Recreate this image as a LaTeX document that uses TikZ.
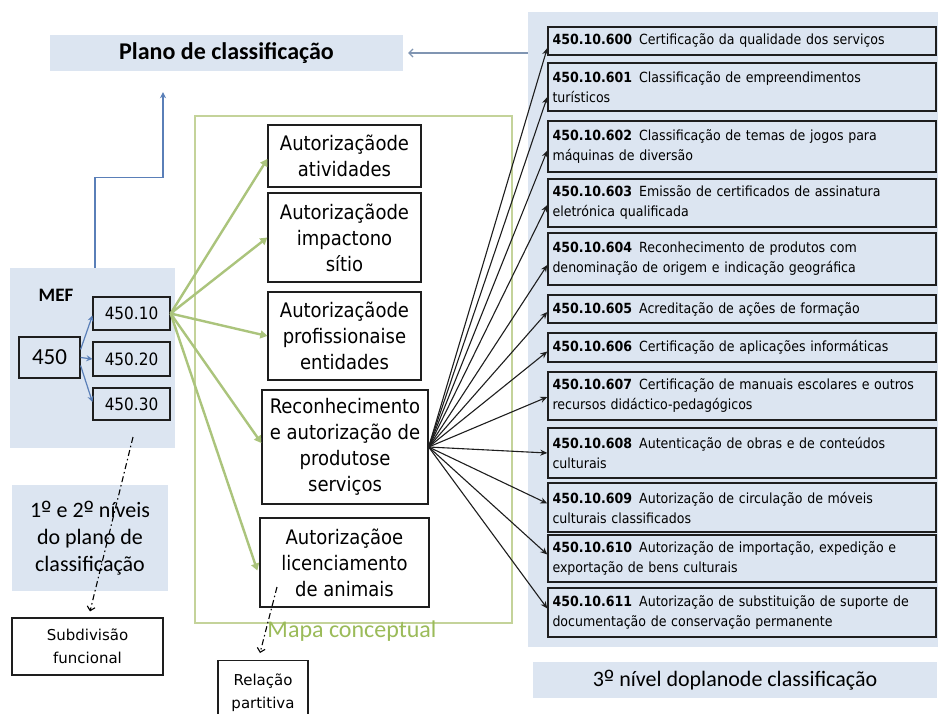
\documentclass[tikz,border=0pt]{standalone}
\usepackage{fontspec}
\newfontfamily\tahfont{DejaVu Sans Condensed}
\newfontfamily\tahwfont{DejaVu Sans}
\newfontfamily\calfont{Carlito}
\usetikzlibrary{arrows.meta,calc}
\newcommand\ordm{{\tahwfont º}}
\definecolor{lightblue}{HTML}{DCE5F1}
\definecolor{boxdark}{HTML}{1E1E1E}
\definecolor{mapgreen}{HTML}{C4D39A}
\definecolor{arrgreen}{HTML}{ABC47C}
\definecolor{labgreen}{HTML}{9BBB59}
\definecolor{linkblue}{HTML}{5A7FB8}
\definecolor{greyblue}{HTML}{8095B2}
\tikzset{
  lbpanel/.style={fill=lightblue, draw=none, inner sep=0pt},
  mbox/.style={draw=boxdark, line width=1.3pt, fill=white, align=center, inner sep=0pt,
    font=\tahfont\fontsize{20}{26}\selectfont},
  rbox/.style={draw=boxdark, line width=1.4pt, fill=lightblue, inner xsep=4.5pt, inner ysep=0pt,
    text width=379pt, align=left, font=\tahfont\fontsize{14}{20}\selectfont},
  nbox/.style={draw=boxdark, line width=1.2pt, fill=lightblue, inner sep=0pt,
    font=\tahfont\fontsize{17}{18}\selectfont},
  sbox/.style={draw=boxdark, line width=1.2pt, fill=white, inner sep=0pt, align=center,
    font=\tahwfont\fontsize{15}{23}\selectfont},
  garrow/.style={draw=arrgreen, line width=2.4pt, -{Triangle[length=7pt,width=8pt]}},
  barrow/.style={draw=boxdark, line width=1.1pt, -{Stealth[length=7pt,width=6pt]}},
  blarrow/.style={draw=linkblue, line width=1.2pt, -{Stealth[length=6pt,width=6pt]}},
  dasharrow/.style={draw=black, line width=1.1pt, dash pattern=on 6pt off 3pt on 1.5pt off 3pt,
    -{Straight Barb[length=4pt,width=8pt]}},
}
\begin{document}
\begin{tikzpicture}[x=1pt,y=-1pt]
\path[use as bounding box] (0,0) rectangle (938,713);
\clip (0,0) rectangle (938,713);
\fill[white] (0,0) rectangle (938,713);

% panels
\node[lbpanel, minimum width=353pt, minimum height=36pt,
  font=\calfont\bfseries\fontsize{24}{26}\selectfont] (plano) at (226.5,53) {Plano de classificação};
\node[lbpanel, minimum width=410pt, minimum height=635pt] (panel) at (733,329.5) {};
\node[lbpanel, minimum width=404pt, minimum height=36pt,
  font=\calfont\fontsize{22}{24}\selectfont] (nivel3) at (735,680) {3\ordm{} nível doplanode classificação};
\node[lbpanel, minimum width=165pt, minimum height=180pt] (mef) at (92.5,358) {};
\node[font=\calfont\bfseries\fontsize{19}{20}\selectfont] (mefl) at (56,295) {MEF};
\node[lbpanel, minimum width=156pt, minimum height=106pt, align=center,
  font=\calfont\fontsize{22}{27}\selectfont] (niveis) at (90,538) {1\ordm{} e 2\ordm{} níveis\\do plano de\\classificação};

% mapa conceptual frame
\node[draw=mapgreen, line width=1.2pt, minimum width=317pt, minimum height=507pt, inner sep=0pt] (mapa) at (353.5,369.5) {};
\node[text=labgreen, font=\calfont\fontsize{24}{26}\selectfont] (mapal) at (352,631) {Mapa conceptual};

% MEF boxes
\node[nbox, minimum width=61pt, minimum height=41pt, font=\calfont\fontsize{23}{24}\selectfont] (n450) at (49.5,357.5) {450};
\node[nbox, minimum width=77pt, minimum height=33pt] (n10) at (131.5,313.5) {450.10};
\node[nbox, minimum width=77pt, minimum height=34pt] (n20) at (131.5,359) {450.20};
\node[nbox, minimum width=77pt, minimum height=32pt] (n30) at (131.5,404) {450.30};

% middle boxes
\node[mbox, minimum width=153pt, minimum height=62pt] (atv) at (344.5,156) {Autorizaçãode\\atividades};
\node[mbox, minimum width=153pt, minimum height=89pt] (imp) at (344.5,237.5) {Autorizaçãode\\impactono\\sítio};
\node[mbox, minimum width=153pt, minimum height=88pt] (prof) at (344.5,336) {Autorizaçãode\\profissionaise\\entidades};
\node[mbox, minimum width=166pt, minimum height=114pt] (rec) at (345,447) {Reconhecimento\\e autorização de\\produtose\\serviços};
\node[mbox, minimum width=169pt, minimum height=89pt] (ani) at (344.5,562.5) {Autorizaçãoe\\licenciamento\\de animais};

% small boxes
\node[sbox, minimum width=151pt, minimum height=57pt] (subdiv) at (87.5,646.5) {Subdivisão\\funcional};
\node[sbox, minimum width=90pt, minimum height=64pt, anchor=north] (relacao) at (263,660) {Relação\\partitiva};

% right boxes
\node[rbox, minimum height=28pt] (r600) at (742,41) {\textbf{450.10.600}\enspace Certificação da qualidade dos serviços};
\node[rbox, minimum height=48pt] (r601) at (742,87) {\textbf{450.10.601}\enspace Classificação de empreendimentos\\turísticos};
\node[rbox, minimum height=51pt] (r602) at (742,146.5) {\textbf{450.10.602}\enspace Classificação de temas de jogos para\\máquinas de diversão};
\node[rbox, minimum height=48pt] (r603) at (742,203) {\textbf{450.10.603}\enspace Emissão de certificados de assinatura\\eletrónica qualificada};
\node[rbox, minimum height=52pt] (r604) at (742,259) {\textbf{450.10.604}\enspace Reconhecimento de produtos com\\denominação de origem e indicação geográfica};
\node[rbox, minimum height=28pt] (r605) at (742,309) {\textbf{450.10.605}\enspace Acreditação de ações de formação};
\node[rbox, minimum height=29pt] (r606) at (742,347.5) {\textbf{450.10.606}\enspace Certificação de aplicações informáticas};
\node[rbox, minimum height=48pt] (r607) at (742,396) {\textbf{450.10.607}\enspace Certificação de manuais escolares e outros\\recursos didáctico-pedagógicos};
\node[rbox, minimum height=50pt] (r608) at (742,453) {\textbf{450.10.608}\enspace Autenticação de obras e de conteúdos\\culturais};
\node[rbox, minimum height=49pt] (r609) at (742,507.5) {\textbf{450.10.609}\enspace Autorização de circulação de móveis\\culturais classificados};
\node[rbox, minimum height=47pt] (r610) at (742,558.5) {\textbf{450.10.610}\enspace Autorização de importação, expedição e\\exportação de bens culturais};
\node[rbox, minimum height=49pt] (r611) at (742,612.5) {\textbf{450.10.611}\enspace Autorização de substituição de suporte de\\documentação de conservação permanente};

% arrow to plano
\draw[draw=greyblue, line width=1.2pt, -{Straight Barb[length=4pt,width=8pt]}] (panel.west |- plano.east) -- ([xshift=5pt]plano.east);
% blue elbow from MEF
\draw[blarrow] ([xshift=2.5pt]mef.north) -- ++(0,-90) -| ([xshift=-63.5pt,yshift=-21pt]plano.south);
% blue arrows 450 -> subdivisions
\draw[blarrow] ([yshift=8pt]n450.east) -- ([yshift=-2pt]n10.west);
\draw[blarrow] (n450.east) -- (n20.west);
\draw[blarrow] ([yshift=-8pt]n450.east) -- ([yshift=2pt]n30.west);

% green arrows
\draw[garrow] (n10.east) -- ([yshift=-3pt]atv.west);
\draw[garrow] (n10.east) -- (imp.west);
\draw[garrow] (n10.east) -- (prof.west);
\draw[garrow] (n10.east) -- ([yshift=4pt]rec.west);
\draw[garrow] (n10.east) -- ([xshift=-2pt,yshift=-8pt]ani.west);

% black arrows
\draw[barrow] (rec.east) -- ([yshift=-7pt]r600.west);
\draw[barrow] (rec.east) -- ([yshift=-10pt]r601.west);
\draw[barrow] (rec.east) -- ([yshift=-4pt]r602.west);
\draw[barrow] (rec.east) -- ([yshift=-2pt]r603.west);
\draw[barrow] (rec.east) -- ([yshift=-6pt]r604.west);
\draw[barrow] (rec.east) -- ([yshift=-3pt]r605.west);
\draw[barrow] (rec.east) -- ([yshift=-4pt]r606.west);
\draw[barrow] (rec.east) -- ([yshift=-1pt]r607.west);
\draw[barrow] (rec.east) -- (r608.west);
\draw[barrow] (rec.east) -- ([yshift=4pt]r609.west);
\draw[barrow] (rec.east) -- ([yshift=4pt]r610.west);
\draw[barrow] (rec.east) -- ([yshift=4pt]r611.west);

% dashed arrows
\coordinate (d1s) at (133,437);
\coordinate (d2s) at (277,587);
\draw[dasharrow] (d1s) -- ([xshift=2.5pt,yshift=6pt]subdiv.north);
\draw[dasharrow] (d2s) -- ([xshift=-3pt,yshift=7pt]relacao.north);
\end{tikzpicture}
\end{document}
